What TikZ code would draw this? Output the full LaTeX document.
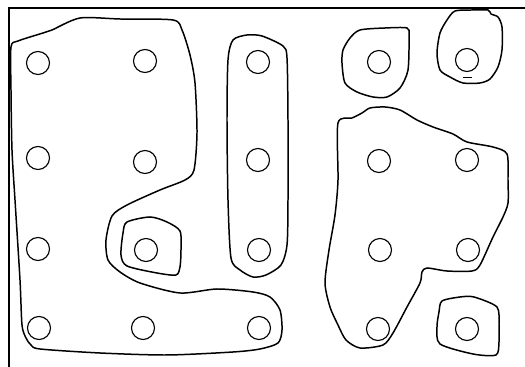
\documentclass[tikz,border=0pt]{standalone}
\usepackage{tikz}
\usetikzlibrary{calc}

\tikzset{
  outline/.style={line width=0.85pt, line join=round},
  hole/.style={line width=0.65pt}
}

\begin{document}
\begin{tikzpicture}[x=0.02cm, y=-0.02cm]
    \useasboundingbox (0,0) rectangle (525,367);
    % frame
    \draw[line width=0.6pt] (9,367) -- (9,8) -- (525,8);

    % holes
    \foreach \x/\y in {38/63, 145/61, 258/62, 379/62, 467/60,
                       38/158, 145/162, 258/160, 379/161, 467/160,
                       38/249, 146/250, 259/250, 380/250, 468/250,
                       39/328, 143/328, 259/328, 378/329, 467/329}
        {\draw[hole] (\x,\y) circle (0.23cm);}

    % outlines
    \draw[outline] plot[smooth cycle, tension=0.45] coordinates {
        (11,47) (18,41) (43,33) (52,30) (80,18) (120,19) (173,20) (182,30)
        (190,55) (195,83) (197,133) (194,170) (185,180) (160,190) (127,205)
        (112,216) (106,240) (108,260) (120,272) (140,283) (180,293) (217,289)
        (253,292) (270,297) (280,310) (282,330) (278,343) (260,349) (233,352)
        (167,355) (100,353) (40,349) (31,345) (26,338) (22,325) (20,280)
        (15,200) (12,150) (11,90)};
    \draw[outline] plot[smooth cycle, tension=0.45] coordinates {
        (233,40) (247,35) (262,36) (283,46) (287,58) (288,120) (288,200)
        (287,245) (281,265) (266,275) (253,277) (240,270) (231,258)
        (228,200) (227,120) (228,60)};
    \draw[outline] plot[smooth cycle, tension=0.45] coordinates {
        (127,222) (150,217) (167,222) (180,231) (181,250) (180,267) (176,275)
        (157,273) (127,266) (121,255) (123,233)};
    \draw[outline] plot[smooth cycle, tension=0.45] coordinates {
        (350,38) (360,30) (385,28) (407,28) (409,36) (408,70) (400,88)
        (387,97) (373,97) (357,92) (345,83) (342,63) (343,50)};
    \draw[outline] plot[smooth cycle, tension=0.45] coordinates {
        (447,20) (455,11) (472,10) (488,10) (491,14) (498,17) (502,27)
        (502,50) (498,67) (490,79) (480,83) (463,83) (450,77) (440,70)
        (437,53) (440,33)};
    \draw[outline] plot[smooth cycle, tension=0.45] coordinates {
        (338,123) (352,118) (362,113) (370,108) (385,107) (400,110) (417,120)
        (433,127) (453,134) (467,142) (493,147) (507,154) (508,180) (508,203)
        (503,217) (493,237) (480,265) (472,271) (447,271) (427,268) (422,272)
        (420,283) (407,307) (393,333) (383,345) (360,348) (346,340) (338,325)
        (330,307) (325,283) (329,250) (335,215) (338,180)};
    \draw[outline] plot[smooth cycle, tension=0.45] coordinates {
        (442,301) (460,297) (474,297) (497,307) (499,325) (499,342) (496,355)
        (473,354) (440,344) (437,327) (439,312)};
    \draw[line width=0.5pt] (463,77) -- (472,77);
\end{tikzpicture}
\end{document}
